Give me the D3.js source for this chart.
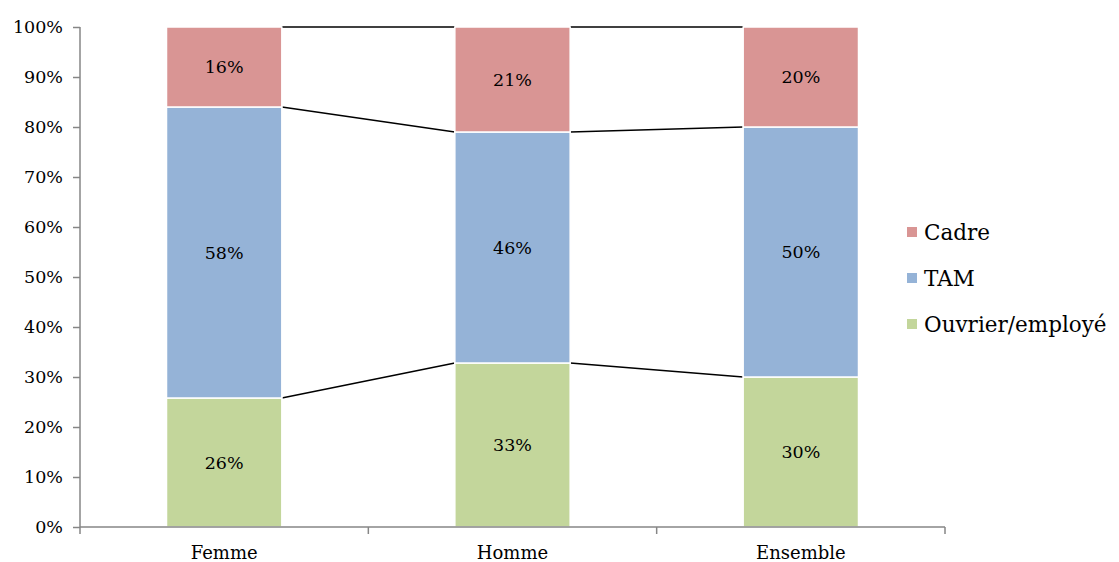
<!DOCTYPE html>
<html><head><meta charset="utf-8">
<script src="https://cdn.jsdelivr.net/npm/d3@7"></script>
<style>body{margin:0;background:#fff}svg{display:block}</style>
</head><body><svg id="c" width="1119" height="562"></svg>
<script>
const categories = ["Femme", "Homme", "Ensemble"];
const seriesNames = ["Ouvrier/employé", "TAM", "Cadre"];
const ouvrier = [0.258, 0.328, 0.30];
const tam = [0.582, 0.462, 0.50];
const cadre = [0.16, 0.21, 0.20];
const colors = ["#C3D69B", "#95B3D7", "#D99594"];
const yTicks = [0,0.1,0.2,0.3,0.4,0.5,0.6,0.7,0.8,0.9,1.0];
const FONT = "DejaVu Serif";

const svg = d3.select("#c").style("font-family", FONT);
const x = d3.scaleBand().domain(categories).range([80, 945]).padding(0);
const y = d3.scaleLinear().domain([0, 1]).range([527, 27]);
const barW = x.bandwidth() * 0.4;
const bx = c => x(c) + (x.bandwidth() - barW) / 2;

const rows = categories.map((c, i) => ({cat: c, "Ouvrier/employé": ouvrier[i], "TAM": tam[i], "Cadre": cadre[i]}));
const stacked = d3.stack().keys(seriesNames)(rows);

const gl = svg.append("g");
stacked.forEach(s => {
  for (let i = 0; i < categories.length - 1; i++) {
    gl.append("line")
      .attr("x1", bx(categories[i]) + barW).attr("y1", y(s[i][1]))
      .attr("x2", bx(categories[i+1])).attr("y2", y(s[i+1][1]))
      .attr("stroke", "#000").attr("stroke-width", 1.4);
  }
});

stacked.forEach((s, k) => {
  const g = svg.append("g");
  g.selectAll("rect").data(s).join("rect")
    .attr("x", d => bx(d.data.cat)).attr("width", barW)
    .attr("y", d => y(d[1])).attr("height", d => y(d[0]) - y(d[1]))
    .attr("fill", colors[k]).attr("stroke", "#fff").attr("stroke-width", 1.5);
  g.selectAll("text").data(s).join("text")
    .attr("x", d => bx(d.data.cat) + barW / 2)
    .attr("y", d => y((d[0] + d[1]) / 2))
    .attr("dy", "0.35em").attr("text-anchor", "middle")
    .style("font-family", FONT).style("font-size", "17.5px").attr("fill", "#000")
    .text(d => d3.format(".0%")(d[1] - d[0]));
});

const yAxis = svg.append("g").attr("transform", "translate(80,0)")
  .call(d3.axisLeft(y).tickValues(yTicks).tickFormat(d3.format(".0%")).tickSize(7).tickPadding(10));
yAxis.attr("font-family", null).attr("font-size", null);
yAxis.select(".domain").attr("stroke", "#868686").attr("stroke-width", 1.5).attr("d", "M0,527V27");
yAxis.selectAll(".tick line").attr("stroke", "#868686").attr("stroke-width", 1.5);
yAxis.selectAll("text").attr("fill", "#000").style("font-family", FONT).style("font-size", "17.5px");

const xAxis = svg.append("g").attr("transform", "translate(0,527)");
xAxis.append("line").attr("x1", 80).attr("x2", 945).attr("stroke", "#868686").attr("stroke-width", 1.5);
const bounds = categories.map(c => x(c)).concat([x(categories[categories.length-1]) + x.bandwidth()]);
xAxis.selectAll(".tk").data(bounds).join("line").attr("class","tk")
  .attr("x1", d => d).attr("x2", d => d).attr("y1", 0).attr("y2", 7)
  .attr("stroke", "#868686").attr("stroke-width", 1.5);
xAxis.selectAll("text").data(categories).join("text")
  .attr("x", d => x(d) + x.bandwidth() / 2).attr("y", 32)
  .attr("text-anchor", "middle").style("font-family", FONT).style("font-size", "18px").attr("fill", "#000").text(d => d);

const legendOrder = ["Cadre", "TAM", "Ouvrier/employé"];
const lg = svg.append("g");
legendOrder.forEach((n, i) => {
  const cy = 232 + i * 46;
  lg.append("rect").attr("x", 907).attr("y", cy - 5).attr("width", 10).attr("height", 10)
    .attr("fill", colors[seriesNames.indexOf(n)]);
  lg.append("text").attr("x", 924).attr("y", cy).attr("dy", "0.35em")
    .style("font-family", FONT).style("font-size", "21.5px").attr("fill", "#000").text(n);
});
</script></body></html>
